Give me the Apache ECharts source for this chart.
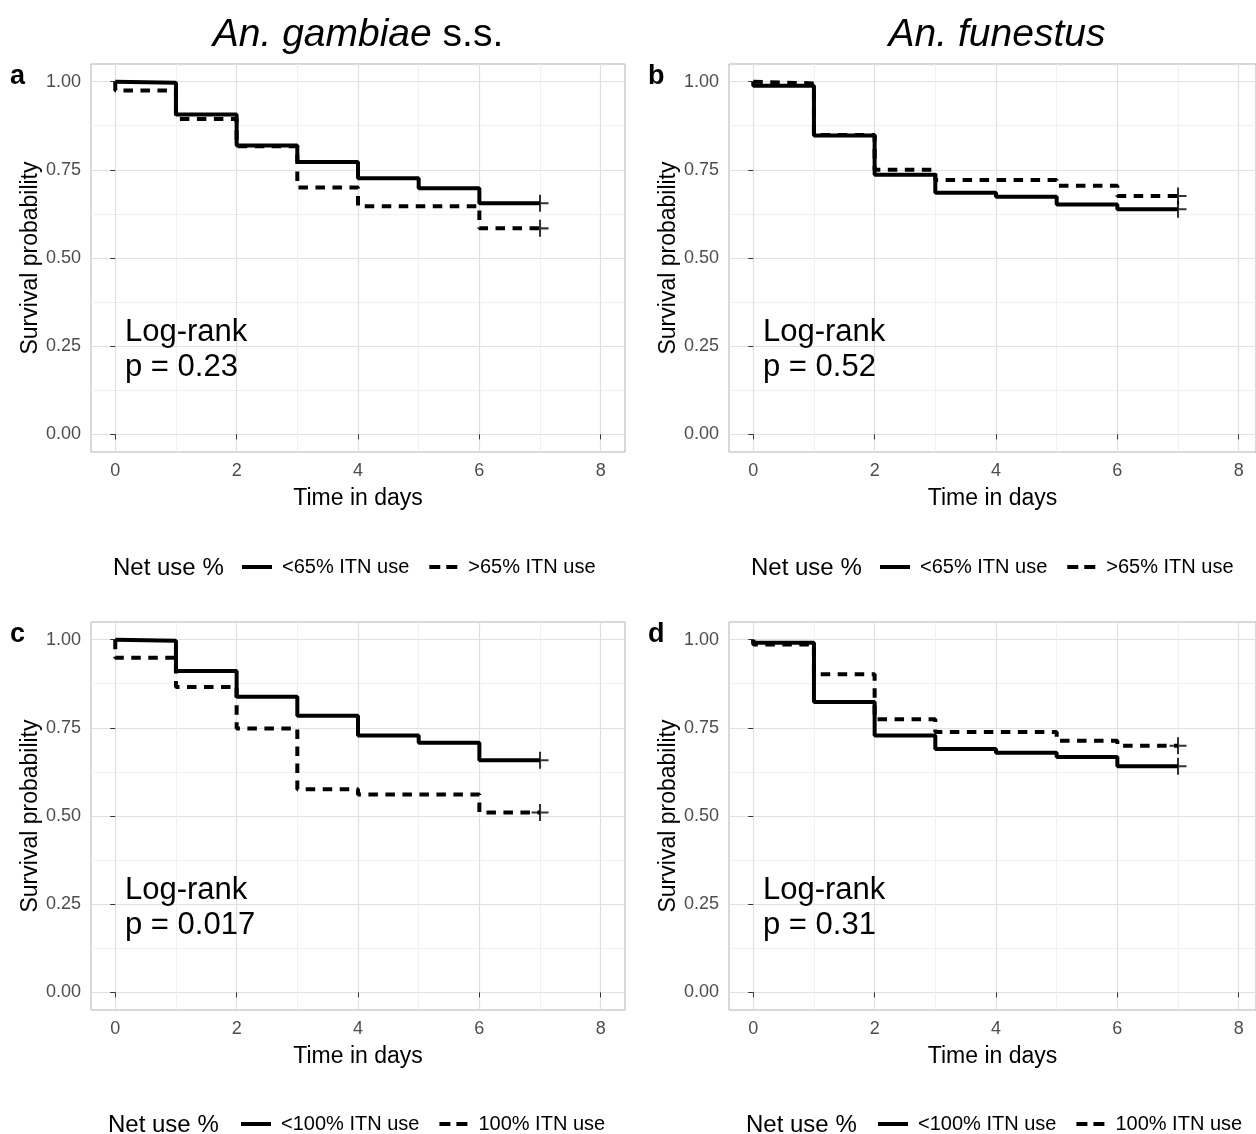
<!DOCTYPE html>
<html>
<head>
<meta charset="utf-8">
<script src="https://cdn.jsdelivr.net/npm/echarts@6.0.0/dist/echarts.min.js"></script>
<style>
  html, body { margin: 0; padding: 0; background: #fff; }
  #chart { width: 1256px; height: 1134px; }
</style>
</head>
<body>
<div id="chart"></div>
<script type="text/javascript">
  // time points: first pair is the drop at day 0, last point is the censored tail
  var days = [0, 0, 1, 2, 3, 4, 5, 6, 7];
  var xTicks = [0, 2, 4, 6, 8];
  var yTicks = [0, 0.25, 0.5, 0.75, 1];

  var gambiaeBelow65 = [1, 0.997, 0.907, 0.819, 0.772, 0.726, 0.698, 0.655, 0.655];
  var gambiaeAbove65 = [1, 0.975, 0.894, 0.817, 0.700, 0.647, 0.647, 0.584, 0.584];
  var funestusBelow65 = [1, 0.988, 0.847, 0.736, 0.685, 0.674, 0.652, 0.638, 0.638];
  var funestusAbove65 = [1, 0.995, 0.849, 0.750, 0.721, 0.721, 0.705, 0.676, 0.676];
  var gambiaeBelow100 = [1, 0.997, 0.911, 0.838, 0.784, 0.728, 0.708, 0.658, 0.658];
  var gambiaeAt100 = [1, 0.949, 0.866, 0.748, 0.576, 0.561, 0.561, 0.510, 0.510];
  var funestusBelow100 = [1, 0.991, 0.823, 0.728, 0.690, 0.679, 0.667, 0.641, 0.641];
  var funestusAt100 = [1, 0.986, 0.902, 0.774, 0.738, 0.738, 0.713, 0.699, 0.699];

  var groups65 = ['<65% ITN use', '>65% ITN use'];
  var groups100 = ['<100% ITN use', '100% ITN use'];
  var pValues = ['p = 0.23', 'p = 0.52', 'p = 0.017', 'p = 0.31'];
  var panelLetters = ['a', 'b', 'c', 'd'];

  // right-hand panels are cut by the figure edge, so their x range stops a bit short of 8.4
  var panels = [
    { solid: gambiaeBelow65, dashed: gambiaeAbove65, names: groups65, left: 91, right: 631, top: 64, xMax: 8.4 },
    { solid: funestusBelow65, dashed: funestusAbove65, names: groups65, left: 729, right: 0, top: 64, xMax: 8.285 },
    { solid: gambiaeBelow100, dashed: gambiaeAt100, names: groups100, left: 91, right: 631, top: 622, xMax: 8.4 },
    { solid: funestusBelow100, dashed: funestusAt100, names: groups100, left: 729, right: 0, top: 622, xMax: 8.285 }
  ];
  var legendLeft = [242, 880, 241, 878];
  var netUseLeft = [113, 751, 108, 746];

  var font = '"Liberation Sans", Arial, Helvetica, sans-serif';
  var plusPath = 'path://M4.4,0L5.6,0L5.6,4.4L10,4.4L10,5.6L5.6,5.6L5.6,10L4.4,10L4.4,5.6L0,5.6L0,4.4L4.4,4.4Z';
  var solidKey = 'path://M0,0L30,0L30,4L0,4Z';
  var dashedKey = 'path://M0,0L11,0L11,4L0,4ZM17,0L28,0L28,4L17,4Z';

  function pairs(values) {
    return values.map(function (v, i) { return [days[i], v]; });
  }

  var grids = [], xAxes = [], yAxes = [], series = [], legends = [], graphics = [];

  panels.forEach(function (p, i) {
    grids.push({
      left: p.left, right: p.right, top: p.top, height: 388,
      show: true, borderColor: '#b3b3b3', borderWidth: 1
    });
    xAxes.push({
      type: 'value', gridIndex: i, min: -0.4, max: p.xMax, minInterval: 2, maxInterval: 2,
      name: 'Time in days', nameLocation: 'middle', nameGap: 35,
      nameTextStyle: { fontSize: 23, color: '#000', fontFamily: font },
      axisLine: { show: false },
      axisTick: { show: true, length: 5, customValues: xTicks, lineStyle: { color: '#333', width: 1 } },
      axisLabel: { customValues: xTicks, color: '#4d4d4d', fontSize: 18, margin: 10, fontFamily: font },
      splitLine: { show: true, lineStyle: { color: '#e0e0e0', width: 1.2 } },
      minorTick: { show: false, splitNumber: 2 },
      minorSplitLine: { show: true, lineStyle: { color: '#eeeeee', width: 0.8 } }
    });
    yAxes.push({
      type: 'value', gridIndex: i, min: -0.05, max: 1.05, minInterval: 0.25, maxInterval: 0.25,
      name: 'Survival probability', nameLocation: 'middle', nameGap: 49,
      nameTextStyle: { fontSize: 23, color: '#000', fontFamily: font },
      axisLine: { show: false },
      axisTick: { show: true, length: 5, customValues: yTicks, lineStyle: { color: '#333', width: 1 } },
      axisLabel: {
        customValues: yTicks, color: '#4d4d4d', fontSize: 18, margin: 10, fontFamily: font,
        formatter: function (v) { return v.toFixed(2); }
      },
      splitLine: { show: true, lineStyle: { color: '#e0e0e0', width: 1.2 } },
      minorTick: { show: false, splitNumber: 2 },
      minorSplitLine: { show: true, lineStyle: { color: '#eeeeee', width: 0.8 } }
    });

    series.push({
      name: p.names[0], type: 'line', step: 'end', xAxisIndex: i, yAxisIndex: i,
      data: pairs(p.solid), showSymbol: false, symbol: 'none', z: 3,
      lineStyle: { color: '#000', width: 4, type: 'solid', cap: 'butt' },
      itemStyle: { color: '#000' }
    });
    series.push({
      name: p.names[1], type: 'line', step: 'end', xAxisIndex: i, yAxisIndex: i,
      data: pairs(p.dashed), showSymbol: false, symbol: 'none', z: 4,
      lineStyle: { color: '#000', width: 4, type: [9.5, 7.5], cap: 'butt' },
      itemStyle: { color: '#000' }
    });
    // censoring marks at the end of each curve
    series.push({
      name: 'censor', type: 'scatter', xAxisIndex: i, yAxisIndex: i,
      symbol: plusPath, symbolSize: 17, z: 5, silent: true,
      itemStyle: { color: '#000' },
      data: [pairs(p.solid)[days.length - 1], pairs(p.dashed)[days.length - 1]]
    });

    var legendMid = i < 2 ? 567 : 1124;
    legends.push({
      data: [{ name: p.names[0], icon: solidKey }, { name: p.names[1], icon: dashedKey }],
      left: legendLeft[i], top: legendMid - 10, orient: 'horizontal',
      itemWidth: 30, itemHeight: 4, itemGap: 20, padding: 0, selectedMode: false,
      itemStyle: { color: '#000', borderWidth: 0 },
      textStyle: { fontSize: 20, color: '#000', fontFamily: font, padding: [0, 0, 0, 5] }
    });

    graphics.push({
      type: 'text', left: netUseLeft[i], top: legendMid - 11, z: 100,
      style: { text: 'Net use %', fontSize: 24, fill: '#000', fontFamily: font }
    });
    graphics.push({
      type: 'text', x: p.left - 81, y: p.top + 13, z: 100,
      style: { text: panelLetters[i], fontSize: 27, fontWeight: 'bold', fill: '#000',
        fontFamily: font, verticalAlign: 'middle' }
    });
    graphics.push({
      type: 'text', x: p.left + 34, y: p.top + 251, z: 100,
      style: { text: 'Log-rank\n' + pValues[i], fontSize: 31, lineHeight: 35, fill: '#000',
        fontFamily: font, verticalAlign: 'top' }
    });
  });

  graphics.push({
    type: 'text', x: 358, y: 35, z: 100,
    style: {
      text: '{i|An. gambiae} s.s.', fontSize: 39, fill: '#000', fontFamily: font,
      align: 'center', verticalAlign: 'middle',
      rich: { i: { fontStyle: 'italic', fontSize: 39, fontFamily: font } }
    }
  });
  graphics.push({
    type: 'text', x: 997, y: 35, z: 100,
    style: { text: 'An. funestus', fontSize: 39, fontStyle: 'italic', fill: '#000',
      fontFamily: font, align: 'center', verticalAlign: 'middle' }
  });

  var option = {
    backgroundColor: '#fff',
    animation: false,
    grid: grids,
    xAxis: xAxes,
    yAxis: yAxes,
    legend: legends,
    series: series,
    graphic: graphics
  };

  var myChart = echarts.init(document.getElementById('chart'));
  myChart.setOption(option);
</script>
</body>
</html>
